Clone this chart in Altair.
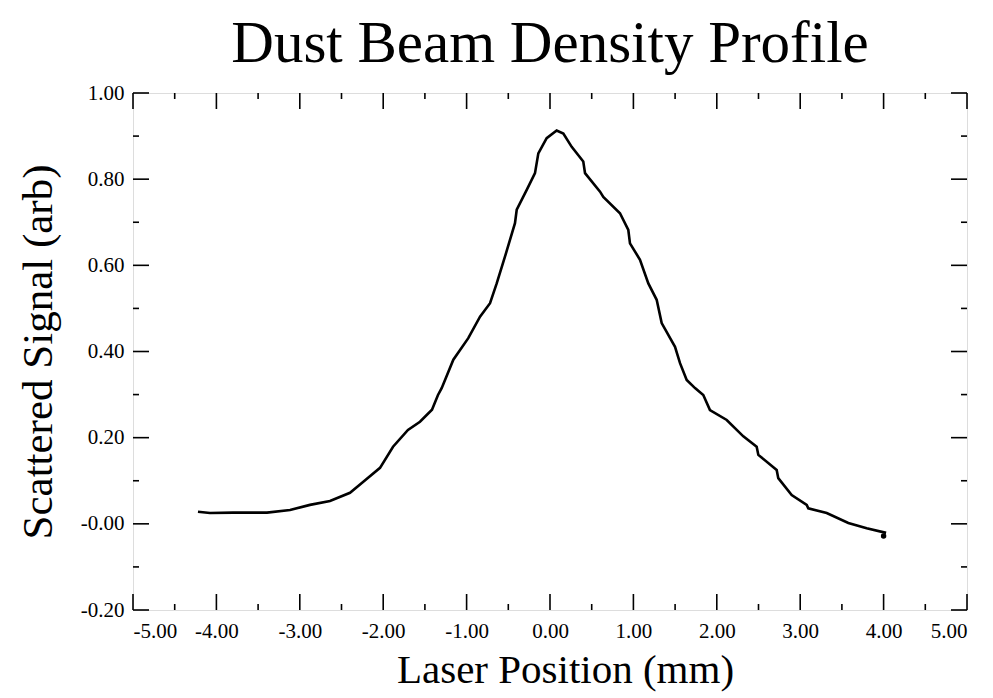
import altair as alt
import pandas as pd

# Curve (laser position in mm, scattered signal arb.)
pos_mm = [-4.221, -4.077, -3.801, -3.393, -3.117, -2.878, -2.638, -2.398, -2.242,
          -2.038, -1.882, -1.703, -1.559, -1.415, -1.343, -1.299, -1.159, -0.980,
          -0.839, -0.719, -0.639, -0.540, -0.420, -0.399, -0.279, -0.180, -0.140,
          -0.040, 0.080, 0.160, 0.260, 0.399, 0.420, 0.600, 0.639, 0.839, 0.939,
          0.959, 1.079, 1.179, 1.279, 1.339, 1.499, 1.559, 1.639, 1.739, 1.838,
          1.918, 2.119, 2.318, 2.478, 2.498, 2.718, 2.737, 2.898, 3.078, 3.097,
          3.318, 3.577, 3.797, 4.030]
signal = [0.028, 0.025, 0.026, 0.026, 0.032, 0.044, 0.053, 0.072, 0.097,
          0.130, 0.179, 0.218, 0.237, 0.265, 0.299, 0.315, 0.381, 0.431,
          0.481, 0.512, 0.558, 0.620, 0.698, 0.729, 0.775, 0.814, 0.860,
          0.895, 0.913, 0.906, 0.875, 0.841, 0.814, 0.771, 0.759, 0.721, 0.682,
          0.651, 0.613, 0.558, 0.520, 0.466, 0.411, 0.373, 0.334, 0.315, 0.299,
          0.264, 0.241, 0.203, 0.179, 0.160, 0.125, 0.106, 0.067, 0.044, 0.036,
          0.025, 0.002, -0.010, -0.021]

end_dot_x = [4.00]
end_dot_y = [-0.028]

x_major = [-5.0, -4.0, -3.0, -2.0, -1.0, 0.0, 1.0, 2.0, 3.0, 4.0, 5.0]
x_minor = [-4.5, -3.5, -2.5, -1.5, -0.5, 0.5, 1.5, 2.5, 3.5, 4.5]
y_major = [-0.2, 0.0, 0.2, 0.4, 0.6, 0.8, 1.0]
y_minor = [-0.1, 0.1, 0.3, 0.5, 0.7, 0.9]

W, H = 834, 517
FONT = "Liberation Serif"

xscale = alt.Scale(domain=[-5, 5], nice=False, zero=False)
yscale = alt.Scale(domain=[-0.2, 1.0], nice=False, zero=False)

xaxis = alt.Axis(
    title="Laser Position (mm)", values=x_major, ticks=False, domain=False, grid=False,
    labelExpr="(datum.value < 0 ? '-' : '') + format(abs(datum.value), '.2f')",
    labelFont=FONT, labelFontSize=21, labelColor="black", labelPadding=10,
    titleFont=FONT, titleFontSize=41, titleFontWeight="normal", titleColor="black",
    titlePadding=9, titleX=432,
)
yaxis = alt.Axis(
    title="Scattered Signal (arb)", values=y_major, ticks=False, domain=False, grid=False,
    labelExpr="datum.value == 0 ? '-0.00' : (datum.value < 0 ? '-' : '') + format(abs(datum.value), '.2f')",
    labelFont=FONT, labelFontSize=21, labelColor="black", labelPadding=9,
    titleFont=FONT, titleFontSize=43, titleFontWeight="normal", titleColor="black",
    titlePadding=20,
)

curve = pd.DataFrame({"x": pos_mm, "y": signal})
line = alt.Chart(curve).mark_line(color="black", strokeWidth=2.6).encode(
    x=alt.X("x:Q", scale=xscale, axis=xaxis),
    y=alt.Y("y:Q", scale=yscale, axis=yaxis),
)
dot = alt.Chart(pd.DataFrame({"x": end_dot_x, "y": end_dot_y})).mark_point(
    filled=True, color="black", size=30, opacity=1
).encode(
    x=alt.X("x:Q", scale=xscale, axis=xaxis),
    y=alt.Y("y:Q", scale=yscale, axis=yaxis),
)


def xticks(vals, length):
    d = pd.DataFrame({"x": vals})
    bottom = alt.Chart(d).mark_rule(color="black", strokeWidth=1.6).encode(
        x=alt.X("x:Q", scale=xscale, axis=xaxis), y=alt.value(H), y2=alt.value(H - length))
    top = alt.Chart(d).mark_rule(color="black", strokeWidth=1.6).encode(
        x=alt.X("x:Q", scale=xscale, axis=xaxis), y=alt.value(0), y2=alt.value(length))
    return [bottom, top]


def yticks(vals, length):
    d = pd.DataFrame({"y": vals})
    left = alt.Chart(d).mark_rule(color="black", strokeWidth=1.6).encode(
        y=alt.Y("y:Q", scale=yscale, axis=yaxis), x=alt.value(0), x2=alt.value(length))
    right = alt.Chart(d).mark_rule(color="black", strokeWidth=1.6).encode(
        y=alt.Y("y:Q", scale=yscale, axis=yaxis), x=alt.value(W), x2=alt.value(W - length))
    return [left, right]


layers = [line, dot] + xticks(x_major, 16) + xticks(x_minor, 6) + yticks(y_major, 16) + yticks(y_minor, 6)

chart = alt.layer(*layers).properties(
    width=W, height=H,
    title=alt.TitleParams(
        "Dust Beam Density Profile", font=FONT, fontSize=59, fontWeight="normal",
        color="black", anchor="middle", offset=8,
    ),
    autosize=alt.AutoSizeParams(type="none"),
    padding={"left": 133, "top": 93, "right": 26, "bottom": 88},
).configure_view(
    stroke="black", strokeWidth=2.2
).configure(background="white")

chart.save("out.html", embed_options={"renderer": "svg", "actions": False})
